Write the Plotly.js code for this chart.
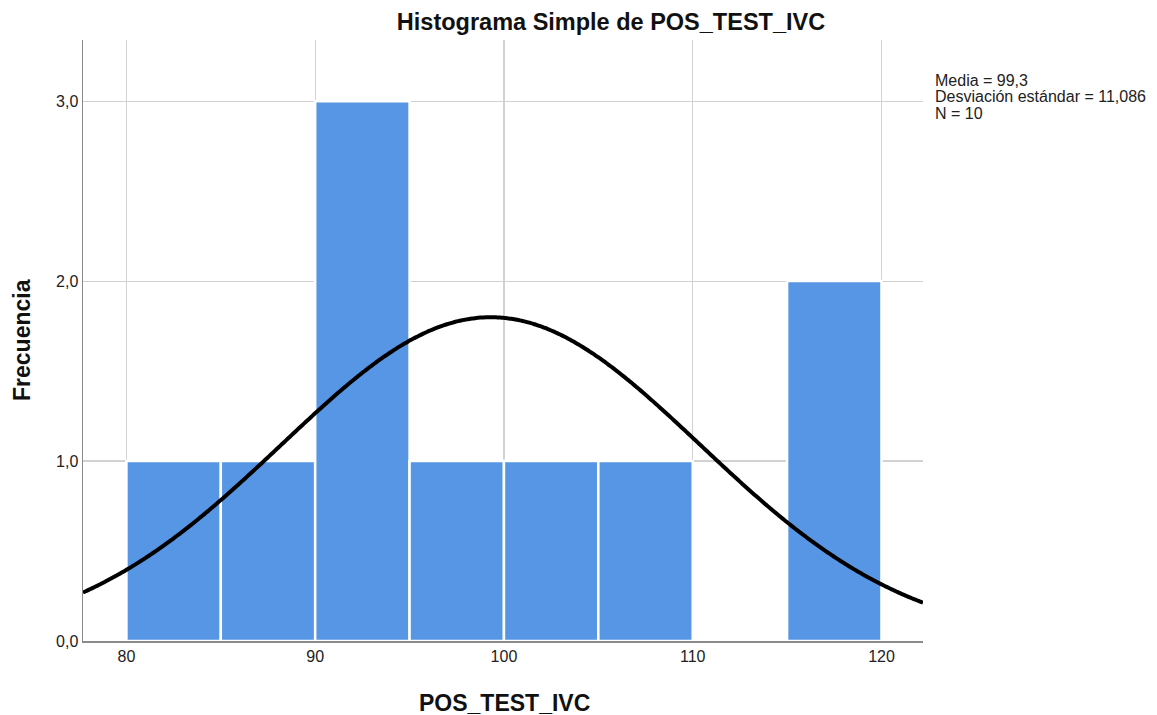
<!DOCTYPE html>
<html>
<head>
<meta charset="utf-8">
<script src="https://cdn.plot.ly/plotly-3.0.1.min.js"></script>
<style>html,body{margin:0;padding:0;background:#fff;}#chart{width:1157px;height:715px;}</style>
</head>
<body>
<div id="chart"></div>
<script>
// Histogram bins (centers), width 5
const binCenters = [82.5, 87.5, 92.5, 97.5, 102.5, 107.5, 112.5, 117.5];
const binCounts  = [1, 1, 3, 1, 1, 1, 0, 2];
const binWidth = 5;
const media = 99.3;
const desviacion = 11.086;
const n = 10;
const xTicks = [80, 90, 100, 110, 120];
const yTicks = [0, 1, 2, 3];
const yTickLabels = ['0,0', '1,0', '2,0', '3,0'];
const statsLines = ['Media = 99,3', 'Desviación estándar = 11,086', 'N = 10'];

// Fitted normal curve from the stated mean, SD and N
const xMin = 77.7, xMax = 122.2;
const curveX = [], curveY = [];
for (let i = 0; i <= 300; i++) {
  const x = xMin + (xMax - xMin) * i / 300;
  const z = (x - media) / desviacion;
  curveX.push(x);
  curveY.push(n * binWidth * Math.exp(-0.5 * z * z) / (desviacion * Math.sqrt(2 * Math.PI)));
}

const traces = [
  {
    type: 'bar', x: binCenters, y: binCounts, width: binWidth,
    marker: {color: '#5795e5', line: {color: '#ffffff', width: 2.5}},
    hoverinfo: 'x+y', showlegend: false
  },
  {
    type: 'scatter', mode: 'lines', x: curveX, y: curveY,
    line: {color: '#000000', width: 4, shape: 'spline'}, hoverinfo: 'skip', showlegend: false
  }
];

const font = 'Liberation Sans, Arial, sans-serif';
const statsAnn = statsLines.map((t, i) => ({
  text: t, xref: 'paper', yref: 'paper', x: (933-83)/840, y: (641-(80 + i*16.5))/601,
  xanchor: 'left', yanchor: 'middle', align: 'left', showarrow: false,
  font: {family: font, size: 16, color: '#222'}
}));

const layout = {
  width: 1157, height: 715,
  margin: {l: 83, r: 234, t: 40, b: 74},
  paper_bgcolor: '#ffffff', plot_bgcolor: '#ffffff',
  separators: ',.',
  font: {family: font, size: 16, color: '#222'},
  bargap: 0,
  title: {text: '<b>Histograma Simple de POS_TEST_IVC</b>', font: {family: font, size: 23.5, color: '#111'},
          x: 611/1157, xanchor: 'center', y: 1 - 22/715, yanchor: 'middle'},
  xaxis: {
    range: [xMin, xMax], tickvals: xTicks, ticktext: xTicks.map(String),
    showgrid: true, gridcolor: '#d2d2d2', gridwidth: 1.2, zeroline: false,
    showline: true, linecolor: '#8a8a8a', linewidth: 1.5, ticks: '',
    tickfont: {family: font, size: 16, color: '#222'}
  },
  yaxis: {
    range: [0, 3.34], tickvals: yTicks, ticktext: yTickLabels,
    showgrid: true, gridcolor: '#d2d2d2', gridwidth: 1.2, zeroline: false,
    showline: true, linecolor: '#8a8a8a', linewidth: 1.5, ticks: '',
    tickfont: {family: font, size: 16, color: '#222'}
  },
  annotations: [
    {text: '<b>POS_TEST_IVC</b>', xref: 'paper', yref: 'paper', x: (504-83)/840, y: -(703-641)/601,
     xanchor: 'center', yanchor: 'middle', showarrow: false, font: {family: font, size: 23, color: '#111'}},
    {text: '<b>Frecuencia</b>', xref: 'paper', yref: 'paper', x: -(83-22)/840, y: (641-340)/601,
     xanchor: 'center', yanchor: 'middle', textangle: -90, showarrow: false, font: {family: font, size: 23, color: '#111'}}
  ].concat(statsAnn)
};

Plotly.newPlot('chart', traces, layout, {displayModeBar: false, staticPlot: true});
</script>
</body>
</html>
